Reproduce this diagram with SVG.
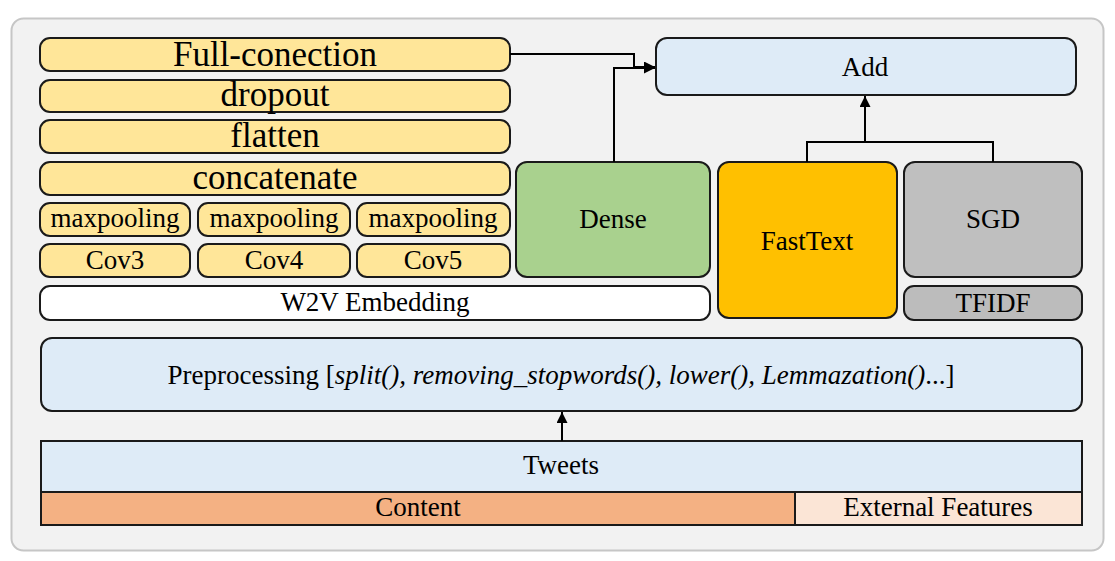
<svg xmlns="http://www.w3.org/2000/svg" width="1115" height="561" viewBox="0 0 1115 561">
<style>
.t{font-family:'Liberation Serif','Times New Roman',Times,Tinos,'Nimbus Roman','Noto Serif','DejaVu Serif',FreeSerif,serif;fill:#000;text-anchor:middle}
.b{stroke:#1a1a1a;stroke-width:2}
.y{fill:#ffe699}
.big{font-size:35px}
.m{font-size:27px}
.c{fill:none;stroke:#000;stroke-width:2}
</style>
<defs>
<marker id="ah" viewBox="0 0 10 10" refX="10" refY="5" markerWidth="13" markerHeight="11" orient="auto" markerUnits="userSpaceOnUse">
<path d="M0,0 L10,5 L0,10 z" fill="#000"/>
</marker>
</defs>
<rect x="11.5" y="18.5" width="1092" height="532" rx="12" fill="#f2f2f2" stroke="#c6c6c6" stroke-width="2"/>

<g id="fullconection"><rect class="b y" x="40" y="38" width="470" height="33" rx="10"/><text class="t big" x="275" y="66">Full-conection</text></g>
<g id="dropout"><rect class="b y" x="40" y="80" width="470" height="32" rx="10"/><text class="t big" x="275" y="106">dropout</text></g>
<g id="flatten"><rect class="b y" x="40" y="120" width="470" height="33" rx="10"/><text class="t big" x="275" y="147">flatten</text></g>
<g id="concatenate"><rect class="b y" x="40" y="162" width="470" height="33" rx="10"/><text class="t big" x="275" y="189">concatenate</text></g>
<g id="maxpool1"><rect class="b y" x="40" y="203" width="150" height="33" rx="10"/><text class="t m" x="115" y="227">maxpooling</text></g>
<g id="maxpool2"><rect class="b y" x="198" y="203" width="152" height="33" rx="10"/><text class="t m" x="274" y="227">maxpooling</text></g>
<g id="maxpool3"><rect class="b y" x="357" y="203" width="153" height="33" rx="10"/><text class="t m" x="433" y="227">maxpooling</text></g>
<g id="cov3"><rect class="b y" x="40" y="244" width="150" height="33" rx="10"/><text class="t m" x="115" y="269">Cov3</text></g>
<g id="cov4"><rect class="b y" x="198" y="244" width="152" height="33" rx="10"/><text class="t m" x="274" y="269">Cov4</text></g>
<g id="cov5"><rect class="b y" x="357" y="244" width="153" height="33" rx="10"/><text class="t m" x="433" y="269">Cov5</text></g>
<g id="w2v"><rect class="b" fill="#ffffff" x="40" y="286" width="670" height="34" rx="10"/><text class="t m" x="375" y="311">W2V Embedding</text></g>

<g id="dense"><rect class="b" fill="#a9d18e" x="516" y="162" width="194" height="115" rx="11"/><text class="t m" x="613" y="228">Dense</text></g>
<g id="fasttext"><rect class="b" fill="#ffc000" x="718" y="162" width="179" height="156" rx="11"/><text class="t m" x="807" y="250">FastText</text></g>
<g id="sgd"><rect class="b" fill="#bfbfbf" x="904" y="162" width="178" height="115" rx="11"/><text class="t m" x="993" y="228">SGD</text></g>
<g id="tfidf"><rect class="b" fill="#bcbcbc" x="904" y="286" width="178" height="34" rx="10"/><text class="t m" x="993" y="312">TFIDF</text></g>
<g id="add"><rect class="b" fill="#deebf7" x="656" y="38" width="420" height="57" rx="11"/><text class="t m" x="865" y="76">Add</text></g>

<g id="preprocessing"><rect class="b" fill="#deebf7" x="41" y="338" width="1041" height="73" rx="11"/><text class="t m" x="561" y="384">Preprocessing [<tspan font-style="italic">split(), removing_stopwords(), lower(), Lemmazation()</tspan>...]</text></g>

<g id="tweets"><rect class="b" fill="#deebf7" x="41" y="441" width="1041" height="51"/><text class="t m" x="561" y="474">Tweets</text></g>
<g id="content"><rect class="b" fill="#f4b183" x="41" y="492" width="754" height="33"/><text class="t m" x="418" y="516">Content</text></g>
<g id="external"><rect class="b" fill="#fbe5d6" x="795" y="492" width="287" height="33"/><text class="t m" x="938" y="516">External Features</text></g>

<g id="connectors">
<polyline class="c" points="510,54 634,54 634,67 655,67" marker-end="url(#ah)"/>
<polyline class="c" points="614,162 614,68 655,68" marker-end="url(#ah)"/>
<polyline class="c" points="807,162 807,142 993,142 993,162"/>
<line class="c" x1="865" y1="142" x2="865" y2="96" marker-end="url(#ah)"/>
<line class="c" x1="562" y1="441" x2="562" y2="412" marker-end="url(#ah)"/>
</g>
</svg>
